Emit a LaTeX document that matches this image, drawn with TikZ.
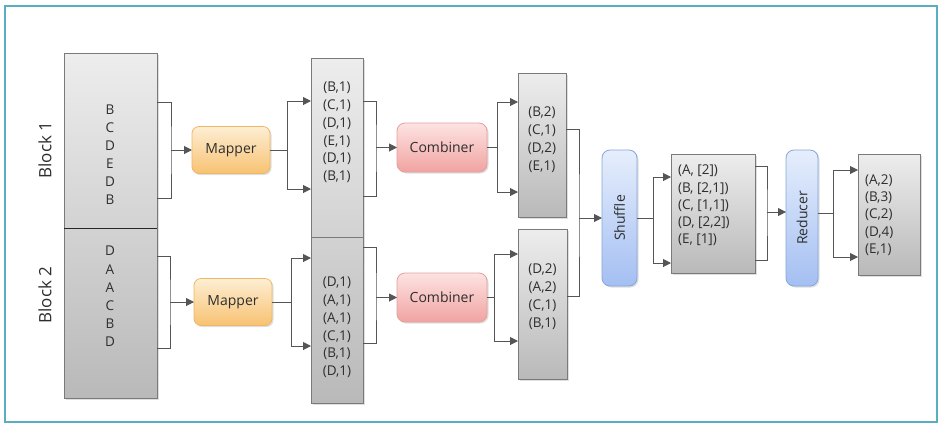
\documentclass[tikz,border=0pt]{standalone}
\usepackage{fontspec}
\setmainfont{Open Sans}
\usetikzlibrary{arrows.meta,shadows}
\definecolor{framec}{HTML}{5AAEC2}
\definecolor{bord}{HTML}{7A7A7A}
\definecolor{gtop}{HTML}{EDEDED}
\definecolor{gbot}{HTML}{B9B9B9}
\definecolor{maptop}{HTML}{FDEED3}
\definecolor{mapbot}{HTML}{F8C272}
\definecolor{mapd}{HTML}{EDB764}
\definecolor{comtop}{HTML}{FDE3E2}
\definecolor{combot}{HTML}{F0A3A1}
\definecolor{comd}{HTML}{E2A09E}
\definecolor{blutop}{HTML}{E6EEFC}
\definecolor{blubot}{HTML}{A4BFF2}
\definecolor{blud}{HTML}{86A5DA}
\definecolor{lnc}{HTML}{555555}
\definecolor{txtc}{HTML}{2E2E2E}
\begin{document}
\begin{tikzpicture}[x=1pt,y=-1pt,
  every node/.style={inner sep=0pt, outer sep=0pt, text=txtc},
  shd/.style={drop shadow={shadow xshift=1.5pt,shadow yshift=-1.5pt,opacity=0.25}},
  graybox/.style={shd, draw=bord, line width=0.8pt, top color=gtop, bottom color=gbot},
  mapbox/.style={shd, rounded corners=7pt, draw=mapd, line width=0.8pt, top color=maptop, bottom color=mapbot, minimum width=78pt, minimum height=47pt, font=\fontsize{14}{17}\selectfont},
  combox/.style={shd, rounded corners=8pt, draw=comd, line width=0.8pt, top color=comtop, bottom color=combot, minimum width=90pt, minimum height=49pt, font=\fontsize{14}{17}\selectfont},
  blubox/.style={shd, rounded corners=8pt, draw=blud, line width=0.8pt, top color=blutop, bottom color=blubot, minimum height=136pt, font=\fontsize{14}{17}\selectfont},
  ln/.style={draw=lnc, line width=1pt},
  arr/.style={ln, -{Triangle[length=8pt,width=8pt]}},
  lbl/.style={font=\fontsize{13.5}{17.8}\selectfont, align=center},
  lbll/.style={font=\fontsize{13.5}{17.2}\selectfont, align=left, anchor=west},
  blklbl/.style={font=\fontsize{17}{20}\selectfont, rotate=90}
]
\useasboundingbox (0,0) rectangle (945,432);
\fill[white] (0,0) rectangle (945,432);
\draw[framec, line width=2pt] (5,6) rectangle (937,422);

% input blocks
\node[graybox, minimum width=93pt, minimum height=345pt] (blk) at (110.5,225.5) {};
\draw[black!85, line width=1pt] (blk.west |- 0,228) -- (blk.east |- 0,228);
\node[blklbl] (lb1) at (45,150) {Block 1};
\node[blklbl] (lb2) at (45,295) {Block 2};
\node[lbl, font=\fontsize{13.5}{18}\selectfont] (t1) at (110,155) {B\\C\\D\\E\\D\\B};
\node[lbl, font=\fontsize{13.5}{18.2}\selectfont] (t2) at (110,296.5) {D\\A\\A\\C\\B\\D};

% mappers
\node[mapbox] (map1) at (231,150) {Mapper};
\node[mapbox] (map2) at (233,302) {Mapper};
\coordinate (k1) at (171,150);
\coordinate (k2) at (170,302);
\draw[ln] (blk.east |- 0,102) -| (k1) |- (blk.east |- 0,198);
\draw[arr] (k1) -- (map1.west);
\draw[ln] (blk.east |- 0,256) -| (k2) |- (blk.east |- 0,348);
\draw[arr] (k2) -- (map2.west);

% map output
\node[graybox, minimum width=52pt, minimum height=345pt] (mid) at (337,230.5) {};
\draw[bord, line width=0.8pt] (mid.west |- 0,237) -- (mid.east |- 0,237);
\node[lbl] (t3) at (337,132.5) {(B,1)\\(C,1)\\(D,1)\\(E,1)\\(D,1)\\(B,1)};
\node[lbl] (t4) at (337,327.5) {(D,1)\\(A,1)\\(A,1)\\(C,1)\\(B,1)\\(D,1)};
\coordinate (s1) at (287,150);
\coordinate (s2) at (291,302);
\draw[ln] (map1.east) -- (s1);
\draw[arr] (s1) |- (mid.west |- 0,101);
\draw[arr] (s1) |- (mid.west |- 0,189);
\draw[ln] (map2.east) -- (s2);
\draw[arr] (s2) |- (mid.west |- 0,258);
\draw[arr] (s2) |- (mid.west |- 0,346);

% combiners
\node[combox] (comb1) at (442,147.5) {Combiner};
\node[combox] (comb2) at (442,297.5) {Combiner};
\coordinate (k3) at (376,147.5);
\coordinate (k4) at (376,297.5);
\draw[ln] (mid.east |- 0,101) -| (k3) |- (mid.east |- 0,196);
\draw[arr] (k3) -- (comb1.west);
\draw[ln] (mid.east |- 0,247) -| (k4) |- (mid.east |- 0,343);
\draw[arr] (k4) -- (comb2.west);

% combiner outputs
\node[graybox, minimum width=48pt, minimum height=144pt] (c1) at (542,145) {};
\node[graybox, minimum width=49pt, minimum height=150pt] (c2) at (542.5,304) {};
\node[lbl, font=\fontsize{13.5}{18}\selectfont] (t5) at (542,140) {(B,2)\\(C,1)\\(D,2)\\(E,1)};
\node[lbl, font=\fontsize{13.5}{18}\selectfont] (t6) at (542.5,297) {(D,2)\\(A,2)\\(C,1)\\(B,1)};
\coordinate (s3) at (497,147.5);
\coordinate (s4) at (494,297.5);
\draw[ln] (comb1.east) -- (s3);
\draw[arr] (s3) |- (c1.west |- 0,102);
\draw[arr] (s3) |- (c1.west |- 0,192);
\draw[ln] (comb2.east) -- (s4);
\draw[arr] (s4) |- (c2.west |- 0,254);
\draw[arr] (s4) |- (c2.west |- 0,341);

% shuffle
\node[blubox, minimum width=35pt] (shuf) at (619.5,218) {};
\node[rotate=90, font=\fontsize{14}{17}\selectfont] (shuft) at (shuf.center) {Shuffle};
\coordinate (k5) at (579,218);
\draw[ln] (c1.east |- 0,129) -| (k5) |- (c2.east |- 0,296);
\draw[arr] (k5) -- (shuf.west);

% shuffle output
\node[graybox, minimum width=84pt, minimum height=119pt] (sbox) at (713,213.5) {};
\node[lbll] (t7) at (678,205.5) {(A, [2])\\(B, [2,1])\\(C, [1,1])\\(D, [2,2])\\(E, [1])};
\coordinate (s5) at (653,218);
\draw[ln] (shuf.east) -- (s5);
\draw[arr] (s5) |- (sbox.west |- 0,177);
\draw[arr] (s5) |- (sbox.west |- 0,263);

% reducer
\node[blubox, minimum width=32pt] (red) at (802,218) {};
\node[rotate=90, font=\fontsize{14}{17}\selectfont] (redt) at (red.center) {Reducer};
\coordinate (k6) at (767,212);
\draw[ln] (sbox.east |- 0,166) -| (k6) |- (sbox.east |- 0,260);
\draw[arr] (k6) -- (red.west |- k6);

% final output
\node[graybox, minimum width=62pt, minimum height=121pt] (fbox) at (889,214.5) {};
\node[lbll, font=\fontsize{13.5}{17.4}\selectfont] (t8) at (865,215) {(A,2)\\(B,3)\\(C,2)\\(D,4)\\(E,1)};
\coordinate (s6) at (833,213);
\draw[ln] (red.east |- s6) -- (s6);
\draw[arr] (s6) |- (fbox.west |- 0,170);
\draw[arr] (s6) |- (fbox.west |- 0,257);
\end{tikzpicture}
\end{document}
